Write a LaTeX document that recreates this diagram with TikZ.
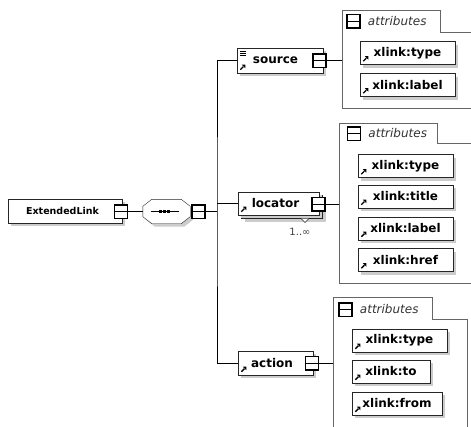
\documentclass[tikz,border=0pt]{standalone}
\usepackage{fontspec}
\setmainfont{DejaVu Sans}
\usetikzlibrary{shadows,positioning}

\tikzset{
  elem/.style={draw=black!85, fill=white, inner sep=0pt,
    drop shadow={shadow xshift=3pt, shadow yshift=-3pt, fill=black!20, opacity=1},
    font=\bfseries\fontsize{12}{13}\selectfont},
  attr/.style={elem, minimum width=95pt, minimum height=23pt},
  minus/.style={draw=black, line width=1.5pt, fill=white, minimum width=13pt, minimum height=13.5pt, inner sep=0pt,
    path picture={\draw[line width=0.9pt] (path picture bounding box.west) -- (path picture bounding box.east);}},
  panel/.style={draw=black!60, line width=0.7pt},
  head/.style={inner sep=1pt, font=\itshape\fontsize{12}{13}\selectfont, text=black!80}
}

\begin{document}
\begin{tikzpicture}[x=1pt,y=-1pt]
\clip (0,0) rectangle (471,426);

% root element and sequence
\node[elem, minimum width=114pt, minimum height=24pt, font=\bfseries\fontsize{9.5}{10}\selectfont] (ext) at (65,211) {ExtendedLink\kern5pt};
\node[minus] (extsq) at (121,211.5) {};
\node[inner sep=0pt, minimum width=47pt, minimum height=24pt] (seq) at (166.5,211.5) {};
\draw[draw=black!85, fill=white, drop shadow={shadow xshift=3pt, shadow yshift=-3pt, fill=black!20, opacity=1}]
  ([xshift=9pt]seq.north west) -- ([xshift=-9pt]seq.north east) -- ([yshift=-7pt]seq.north east)
  -- ([yshift=7pt]seq.south east) -- ([xshift=-9pt]seq.south east) -- ([xshift=9pt]seq.south west)
  -- ([yshift=7pt]seq.south west) -- ([yshift=-7pt]seq.north west) -- cycle;
\draw (seq.center) +(-16,0) -- +(12,0);
\foreach \dx in {-6,-2,2}
  \fill ([xshift=\dx pt]seq.center) +(-1.8pt,-1.8pt) rectangle +(1.8pt,1.8pt);
\node[minus] (seqsq) at (198.5,211.5) {};
\draw (extsq) -- (seq);
\coordinate (bus) at (217,211.5);
\draw (seqsq) -- (bus);

% children
\node[elem, minimum width=86pt, minimum height=25pt] (src) at (280,60.5) {source\kern9pt};
\draw ([shift={(3pt,-3pt)}]src.north west) -- ++(6pt,0) ++(-6pt,-2pt) -- ++(6pt,0) ++(-6pt,-2pt) -- ++(6pt,0);
\node[minus] (srcsq) at (319.5,60.5) {};

\node[elem, minimum width=81pt, minimum height=23pt] (locback) at (282,207) {};
\draw[black!85, fill=white] (301,218.5) -- (305,222.5) -- (309,218.5);
\node[elem, minimum width=81pt, minimum height=23pt] (loc) at (278.5,203.5) {locator\kern6pt};
\node[minus] (locsq) at (318.5,204) {};
\node[font=\fontsize{10}{11}\selectfont, text=black!75] (locmult) at (300,232) {1..∞};

\node[elem, minimum width=75pt, minimum height=24pt] (act) at (275.5,363) {action\kern7pt};
\node[minus] (actsq) at (312,363) {};

\draw (src.west) -| (bus) |- (act.west);
\draw (bus |- loc.west) -- (loc.west);

% attribute groups
\draw[panel] (480,108) -- (342,108) -- (342,10) -- (440,10) -- (440,32) -- (480,32);
\coordinate (srcpanel) at (342,60.5);
\draw (srcsq) -- (srcpanel);
\node[minus] (srchsq) at (353.5,21) {};
\node[head, right=6pt of srchsq] (srchead) {attributes};
\node[attr] (srctype) at (407.5,53) {xlink:type};
\node[attr] (srclabel) at (407.5,85) {xlink:label};

\draw[panel] (480,283) -- (339,283) -- (339,123) -- (437,123) -- (437,143) -- (480,143);
\coordinate (locpanel) at (339,204);
\draw (locsq) -- (locpanel);
\node[minus] (lochsq) at (354,133.5) {};
\node[head, right=6pt of lochsq] (lochead) {attributes};
\node[attr] (loctype) at (405.5,166) {xlink:type};
\node[attr] (loctitle) at (405.5,196.5) {xlink:title};
\node[attr] (loclabel) at (405.5,228.5) {xlink:label};
\node[attr] (lochref) at (405.5,260) {xlink:href};

\draw[panel] (333,430) -- (333,297) -- (432,297) -- (432,319) -- (467,319) -- (467,430);
\coordinate (actpanel) at (333,363);
\draw (actsq) -- (actpanel);
\node[minus] (acthsq) at (345.5,309.5) {};
\node[head, right=6pt of acthsq] (acthead) {attributes};
\node[attr] (acttype) at (399.5,340.5) {xlink:type};
\node[attr, minimum width=78pt] (actto) at (391,371.5) {xlink:to};
\node[attr, minimum width=90pt] (actfrom) at (397,403.5) {xlink:from};

% reference marks
\foreach \n in {src,loc,act,srctype,srclabel,loctype,loctitle,loclabel,lochref,acttype,actto,actfrom} {
  \draw[line width=1.4pt] ([shift={(3.5pt,3.5pt)}]\n.south west) -- ++(3pt,3pt);
  \fill ([shift={(5pt,8.5pt)}]\n.south west) -- ++(3.5pt,0) -- ++(0,-3.5pt) -- cycle;
}
\end{tikzpicture}
\end{document}
